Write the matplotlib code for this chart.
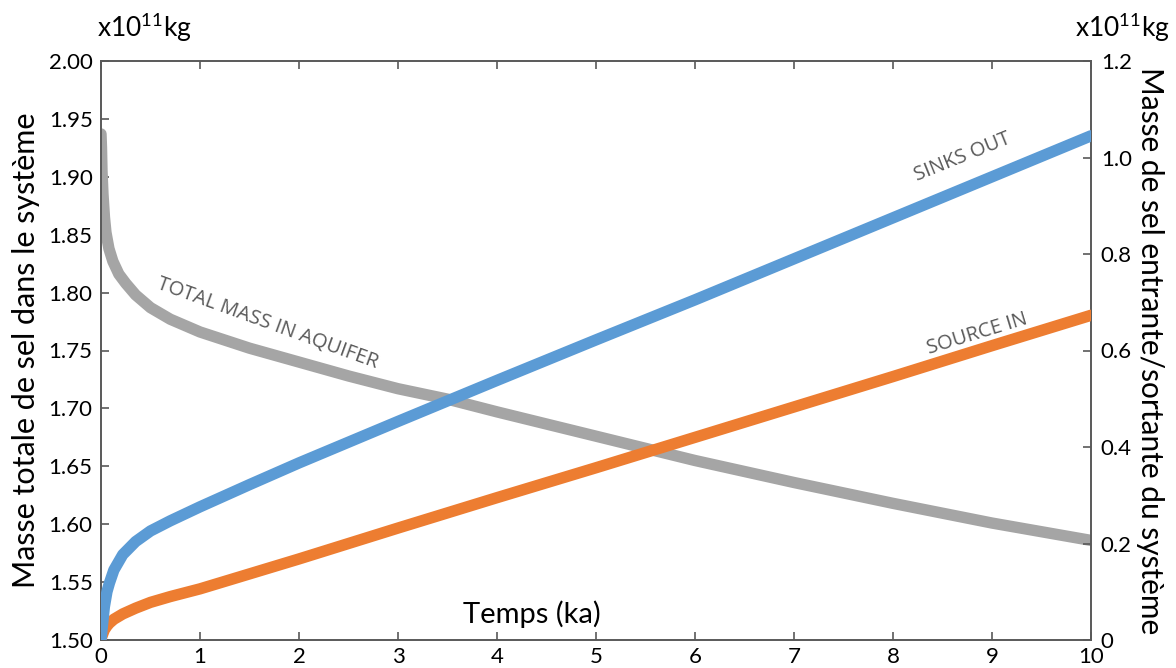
import matplotlib
matplotlib.use("Agg")
import matplotlib.pyplot as plt
import numpy as np

plt.rcParams['font.family'] = ['Lato', 'DejaVu Sans']
plt.rcParams['mathtext.fontset'] = 'custom'
plt.rcParams['mathtext.rm'] = 'Lato'
plt.rcParams['mathtext.it'] = 'Lato'

# Data (time in ka)
t_total = [0, 0.005, 0.01, 0.02, 0.035, 0.05, 0.08, 0.12, 0.18, 0.25, 0.35, 0.5, 0.7, 1, 1.5, 2, 2.5, 3, 3.5, 4, 5, 6, 7, 8, 9, 10]
total_mass = [1.937, 1.925, 1.905, 1.885, 1.865, 1.852, 1.838, 1.827, 1.816, 1.808, 1.798, 1.787, 1.777, 1.766, 1.752, 1.740, 1.728, 1.717, 1.708, 1.697, 1.676, 1.655, 1.636, 1.618, 1.601, 1.586]

t_flux = [0, 0.005, 0.017, 0.034, 0.06, 0.085, 0.13, 0.22, 0.35, 0.5, 0.7, 1, 1.5, 2, 3, 4, 5, 6, 7, 8, 9, 10]
sinks_out = [0, 0.012, 0.035, 0.069, 0.100, 0.118, 0.145, 0.177, 0.204, 0.226, 0.247, 0.276, 0.322, 0.367, 0.453, 0.538, 0.622, 0.705, 0.790, 0.875, 0.960, 1.045]
source_in = [0, 0.005, 0.012, 0.021, 0.029, 0.035, 0.043, 0.054, 0.066, 0.078, 0.090, 0.106, 0.137, 0.168, 0.232, 0.295, 0.357, 0.420, 0.483, 0.546, 0.610, 0.673]

x_ticks = list(range(0, 11))
left_ticks = [1.50, 1.55, 1.60, 1.65, 1.70, 1.75, 1.80, 1.85, 1.90, 1.95, 2.00]
right_ticks = [0, 0.2, 0.4, 0.6, 0.8, 1.0, 1.2]

C_GRAY = '#A5A5A5'
C_BLUE = '#5B9BD5'
C_ORANGE = '#ED7D31'
C_SPINE = '#595959'
C_LABEL = '#595959'

fig = plt.figure(figsize=(11.76, 6.68), dpi=100)
ax = fig.add_axes([101/1176, 28/668, 990/1176, 579/668])
ax2 = ax.twinx()

lw = 8.2
kw = dict(lw=lw, solid_capstyle='round', solid_joinstyle='round')
ax.plot(t_total, total_mass, color=C_GRAY, zorder=2, **kw)
ax2.plot(t_flux, source_in, color=C_ORANGE, zorder=3, **kw)
ax2.plot(t_flux, sinks_out, color=C_BLUE, zorder=4, **kw)

ax.set_xlim(0, 10)
ax.set_ylim(1.50, 2.00)
ax2.set_ylim(0, 1.2)
ax.set_xticks(x_ticks)
ax.set_yticks(left_ticks)
ax.set_yticklabels([f"{v:.2f}" for v in left_ticks])
ax2.set_yticks(right_ticks)
ax2.set_yticklabels(['0' if v == 0 else f"{v:.1f}" for v in right_ticks])

for a in (ax, ax2):
    for s in a.spines.values():
        s.set_color(C_SPINE)
        s.set_linewidth(1.2)
ax.tick_params(axis='x', direction='in', length=6, width=1.2, color=C_SPINE, top=True,
               labelsize=16, pad=5)
ax.tick_params(axis='y', direction='in', length=6, width=1.2, color=C_SPINE, labelsize=16, pad=6)
ax2.tick_params(axis='y', direction='in', length=6, width=1.2, color=C_SPINE, labelsize=16, pad=7)

ax.set_ylabel('Masse totale de sel dans le système', fontsize=22, labelpad=6)
ax2.set_ylabel('Masse de sel entrante/sortante du système', fontsize=21.5, rotation=-90, labelpad=23)

ax.text(0.435, 0.045, 'Temps (ka)', transform=ax.transAxes, ha='center', va='center', fontsize=21)

fig.text(97/1176, 1 - 28/668, r'x10$^{\mathrm{11}}$kg', ha='left', va='center', fontsize=19)
fig.text(1170/1176, 1 - 28/668, r'x10$^{\mathrm{11}}$kg', ha='right', va='center', fontsize=19)

lab = dict(ha='center', va='center', fontsize=14.5, color=C_LABEL, rotation_mode='anchor',
           family=['Open Sans', 'DejaVu Sans'])
ax.text(1.68, 1.773, 'TOTAL MASS IN AQUIFER', rotation=-20, **lab)
ax2.text(8.7, 1.0, 'SINKS OUT', rotation=22, **lab)
ax2.text(8.85, 0.635, 'SOURCE IN', rotation=17, **lab)

fig.savefig('out.png', dpi=100)
